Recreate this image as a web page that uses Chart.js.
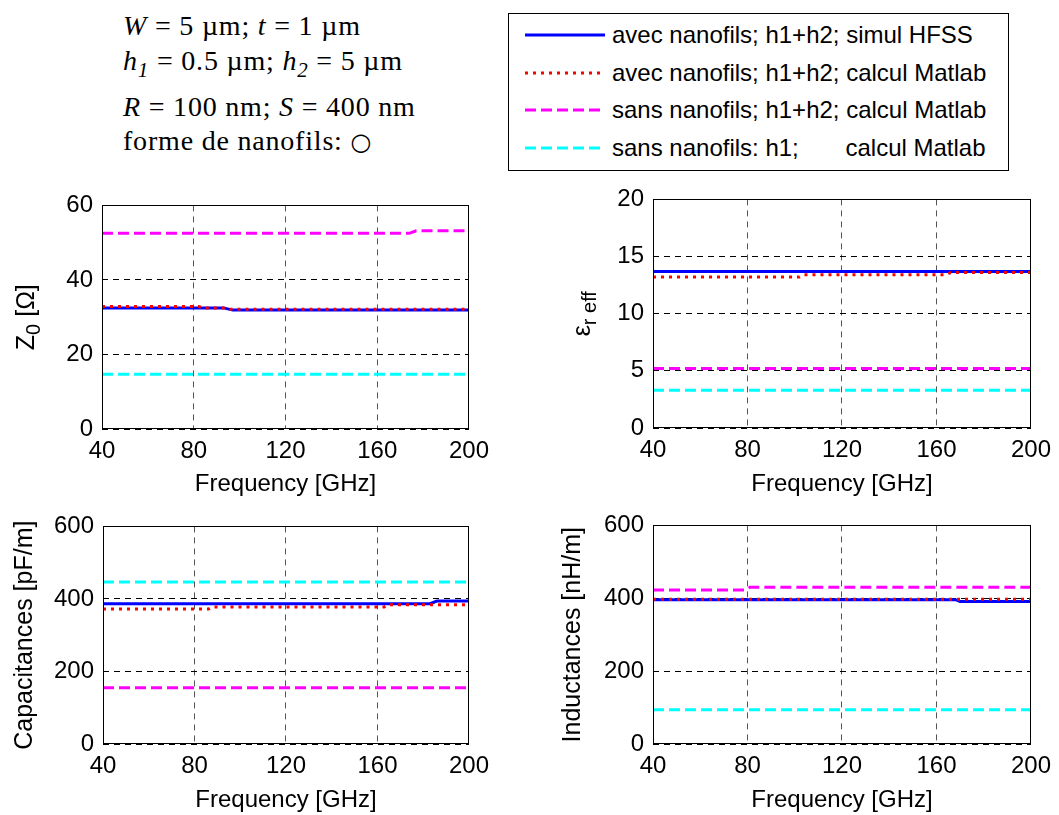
<!DOCTYPE html>
<html>
<head>
<meta charset="utf-8">
<script src="https://cdn.jsdelivr.net/npm/chart.js@4.4.0/dist/chart.umd.min.js"></script>
<style>
  body { margin:0; background:#fff; width:1059px; height:815px; position:relative; overflow:hidden; font-family:"Liberation Sans", Arial, sans-serif; }
  canvas { position:absolute; }
  .info { position:absolute; left:123px; font-family:"Liberation Serif", serif; font-size:28px; line-height:28px; letter-spacing:0.8px; white-space:nowrap; color:#000; }
  .info sub { font-size:21px; vertical-align:-7px; line-height:0; }
  .info .circ { font-family:"DejaVu Sans", sans-serif; font-size:24px; }
  #legend { position:absolute; left:508px; top:13px; width:501px; height:158px; border:1px solid #000; box-sizing:border-box; background:#fff; }
  .lrow { position:absolute; left:0; height:30px; }
  .lrow svg { position:absolute; left:15px; top:0; }
  .lrow span { position:absolute; left:103px; top:0; line-height:30px; font-size:24px; white-space:pre; color:#000; }
</style>
</head>
<body>

<div class="info" style="top:12px"><i>W</i> = 5 µm; <i>t</i> = 1 µm</div>
<div class="info" style="top:47px"><i>h</i><sub><i>1</i></sub> = 0.5 µm; <i>h</i><sub><i>2</i></sub> = 5 µm</div>
<div class="info" style="top:93px"><i>R</i> = 100 nm; <i>S</i> = 400 nm</div>
<div class="info" style="top:127px">forme de nanofils: <span class="circ">○</span></div>

<div id="legend"></div>

<script>
// ---- data ----
const freqTicks = [40, 80, 120, 160, 200];
const seriesNames = [
    'avec nanofils; h1+h2; simul HFSS',
    'avec nanofils; h1+h2; calcul Matlab',
    'sans nanofils; h1+h2; calcul Matlab',
    'sans nanofils: h1;       calcul Matlab'
];

// Z0 [Ohm]
const z0Ticks = [0, 20, 40, 60];
const z0Hfss  = [[40, 32.5], [93, 32.5], [97, 31.9], [200, 31.9]];
const z0Calc  = [[40, 32.9], [82, 32.9], [84, 32.5], [94, 32.5], [96, 32.1], [200, 32.1]];
const z0Sans  = [[40, 52.5], [174, 52.5], [177, 53.2], [200, 53.2]];
const z0H1    = [[40, 14.7], [200, 14.7]];

// eps r eff
const epsTicks = [0, 5, 10, 15, 20];
const epsHfss  = [[40, 13.7], [200, 13.7]];
const epsCalc  = [[40, 13.2], [102, 13.2], [104, 13.4], [164, 13.4], [166, 13.6], [200, 13.6]];
const epsSans  = [[40, 5.2], [200, 5.2]];
const epsH1    = [[40, 3.3], [200, 3.3]];

// capacitances [pF/m]
const capTicks = [0, 200, 400, 600];
const capHfss  = [[40, 387], [183, 387], [186, 394], [200, 394]];
const capCalc  = [[40, 372], [86, 372], [88, 378], [163, 378], [165, 384], [200, 384]];
const capSans  = [[40, 155], [200, 155]];
const capH1    = [[40, 447], [200, 447]];

// inductances [nH/m]
const indTicks = [0, 200, 400, 600];
const indHfss  = [[40, 396], [168, 396], [170, 391], [200, 391]];
const indCalc  = [[40, 397], [200, 397]];
const indSans  = [[40, 423], [79, 423], [81, 430], [200, 430]];
const indH1    = [[40, 94], [200, 94]];

// line styles, same order as seriesNames
const lineStyles = [
    {color: '#0000ff', dash: [], width: 3},
    {color: '#ff0000', dash: [3, 5], width: 3},
    {color: '#ff00ff', dash: [11, 5], width: 3},
    {color: '#00ffff', dash: [11, 5], width: 3}
];

const FONT = '"Liberation Sans", Arial, sans-serif';

// legend (MATLAB style box)
const legend = document.getElementById('legend');
seriesNames.forEach(function(name, i){
    const st = lineStyles[i];
    const row = document.createElement('div');
    row.className = 'lrow';
    row.style.top = (6 + i * 37.5) + 'px';
    row.innerHTML = '<svg width="82" height="30"><line x1="1" y1="15" x2="81" y2="15" stroke="' + st.color +
        '" stroke-width="3" stroke-dasharray="' + (st.dash.length ? st.dash.join(',') : 'none') + '"/></svg>' +
        '<span>' + name + '</span>';
    legend.appendChild(row);
});

// rotated y label with subscripts
const yLabelPlugin = {
    id: 'ylab',
    afterDraw(chart, args, opts) {
        const ctx = chart.ctx, a = chart.chartArea;
        ctx.save();
        ctx.translate(opts.x, (a.top + a.bottom) / 2);
        ctx.rotate(-Math.PI / 2);
        ctx.fillStyle = '#000';
        ctx.textBaseline = 'middle';
        let total = 0;
        opts.parts.forEach(function(p){
            ctx.font = (p.sub ? 20 : 25) + 'px ' + FONT;
            total += ctx.measureText(p.t).width;
        });
        let x = -total / 2;
        opts.parts.forEach(function(p){
            ctx.font = (p.sub ? 20 : 25) + 'px ' + FONT;
            ctx.fillText(p.t, x, p.sub ? 7 : 0);
            x += ctx.measureText(p.t).width;
        });
        ctx.restore();
    }
};

// axes box on top of the lines
const boxPlugin = {
    id: 'box',
    afterDatasetsDraw(chart) {
        const ctx = chart.ctx, a = chart.chartArea;
        ctx.save();
        ctx.strokeStyle = '#000';
        ctx.lineWidth = 1;
        ctx.strokeRect(Math.round(a.left) + 0.5, Math.round(a.top) + 0.5,
            Math.round(a.right - a.left) - 1, Math.round(a.bottom - a.top) - 1);
        ctx.restore();
    }
};

function makePanel(p) {
    const padTop = 16, padRight = 25;
    const left = p.canvasLeft;
    const top = p.area.t - padTop;
    const c = document.createElement('canvas');
    c.width = p.area.r + padRight - left;
    c.height = p.area.b + p.xh - top;
    c.style.left = left + 'px';
    c.style.top = top + 'px';
    document.body.appendChild(c);

    // red dotted drawn over the blue one
    const data = [p.series[1], p.series[0], p.series[2], p.series[3]];
    const styleIdx = [1, 0, 2, 3];
    const datasets = data.map(function(pts, k){
        const st = lineStyles[styleIdx[k]];
        return {
            data: pts.map(function(q){ return {x: q[0], y: q[1]}; }),
            borderColor: st.color,
            borderWidth: st.width,
            borderDash: st.dash,
            borderCapStyle: 'butt',
            pointRadius: 0,
            tension: 0,
            fill: false
        };
    });

    new Chart(c, {
        type: 'line',
        data: {datasets: datasets},
        options: {
            responsive: false,
            animation: false,
            layout: {padding: {top: padTop, right: padRight, left: 0, bottom: 0}},
            plugins: {
                legend: {display: false},
                tooltip: {enabled: false},
                ylab: {x: p.labelX - left, parts: p.label}
            },
            scales: {
                x: {
                    type: 'linear',
                    min: freqTicks[0],
                    max: freqTicks[freqTicks.length - 1],
                    afterBuildTicks: function(s){ s.ticks = freqTicks.map(function(v){ return {value: v}; }); },
                    afterFit: function(s){ s.height = p.xh; },
                    ticks: {font: {family: FONT, size: 24}, color: '#000', padding: 8, maxRotation: 0, autoSkip: false},
                    grid: {color: '#555', lineWidth: 1, drawTicks: false},
                    border: {display: false, dash: [6, 5]},
                    title: {display: true, text: 'Frequency [GHz]', color: '#000', font: {family: FONT, size: 24}, padding: 0}
                },
                y: {
                    min: p.ticks[0],
                    max: p.ticks[p.ticks.length - 1],
                    afterBuildTicks: function(s){ s.ticks = p.ticks.map(function(v){ return {value: v}; }); },
                    afterFit: function(s){ s.width = p.area.l - left; },
                    ticks: {font: {family: FONT, size: 24}, color: '#000', padding: 9, autoSkip: false},
                    grid: {color: '#000', lineWidth: 1, drawTicks: false},
                    border: {display: false, dash: [6, 5]}
                }
            }
        },
        plugins: [yLabelPlugin, boxPlugin]
    });
}

makePanel({
    canvasLeft: 0, area: {l: 102, t: 198, r: 472, b: 429}, xh: 70,
    ticks: z0Ticks, labelX: 27,
    label: [{t: 'Z'}, {t: '0', sub: true}, {t: ' [Ω]'}],
    series: [z0Hfss, z0Calc, z0Sans, z0H1]
});
makePanel({
    canvasLeft: 545, area: {l: 653, t: 192, r: 1034, b: 428}, xh: 71,
    ticks: epsTicks, labelX: 583,
    label: [{t: 'ε'}, {t: 'r eff', sub: true}],
    series: [epsHfss, epsCalc, epsSans, epsH1]
});
makePanel({
    canvasLeft: 0, area: {l: 103, t: 519, r: 472, b: 744}, xh: 71,
    ticks: capTicks, labelX: 25,
    label: [{t: 'Capacitances [pF/m]'}],
    series: [capHfss, capCalc, capSans, capH1]
});
makePanel({
    canvasLeft: 545, area: {l: 653, t: 518, r: 1034, b: 744}, xh: 71,
    ticks: indTicks, labelX: 573,
    label: [{t: 'Inductances [nH/m]'}],
    series: [indHfss, indCalc, indSans, indH1]
});
</script>
</body>
</html>
